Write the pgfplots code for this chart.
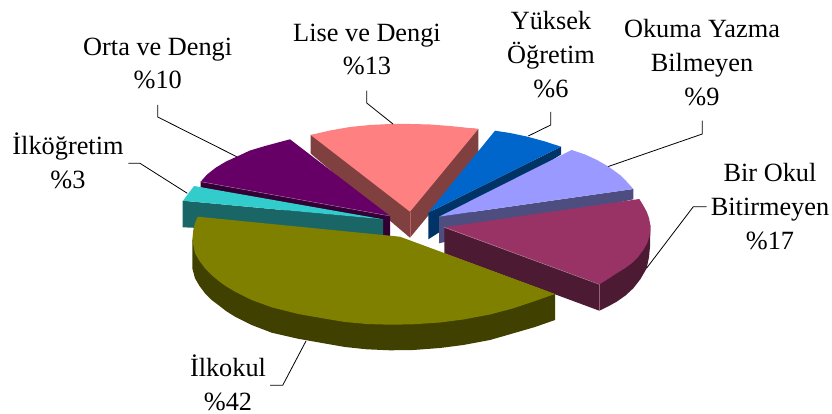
\documentclass[border=0pt]{standalone}
\usepackage{fontspec}
\setmainfont{Liberation Serif}
\usepackage{pgfplots}
\pgfplotsset{compat=1.18}
\definecolor{oliveT}{HTML}{808000}\definecolor{oliveS}{HTML}{404000}
\definecolor{purpT}{HTML}{660066}\definecolor{purpS}{HTML}{330033}
\definecolor{cyanT}{HTML}{33CCCC}\definecolor{cyanS}{HTML}{1A6666}
\definecolor{pinkT}{HTML}{FF8080}\definecolor{pinkS}{HTML}{804040}
\definecolor{blueT}{HTML}{0066CC}\definecolor{blueS}{HTML}{003366}
\definecolor{lavT}{HTML}{9999FF}\definecolor{lavS}{HTML}{4D4D80}
\definecolor{marT}{HTML}{993366}\definecolor{marS}{HTML}{4D1A33}
\newcommand{\lab}[3]{\node[anchor=base,inner sep=0pt,text=black] at (axis cs:#1,#2) {\fontsize{26.3}{30}\selectfont #3};}
\begin{document}
\begin{tikzpicture}
\path[use as bounding box] (0,0) rectangle (832pt,414pt);
\begin{axis}[
  at={(0,0)},anchor=south west,
  x=1pt,y=1pt,xmin=0,xmax=832,ymin=0,ymax=414,y dir=reverse,
  axis lines=none,clip=false,scale only axis,
]
% Lise ve Dengi
\addplot[fill=pinkS,draw=none] coordinates {(310.7,135)(310.7,153.5)(410,237.7)(478.3,155)(478.3,129)(410,124)} --cycle;
\addplot[fill=pinkT,draw=none] coordinates {(310.7,135)(330,130.5)(350,127)(370,125)(390,124)(410,124)(430,124.5)(450,126)(478.3,129)(410,211.7)} --cycle;
\addplot[draw=pinkT!50!pinkS,line width=0.7pt] coordinates {(410,212)(410,237)};
% Yuksek Ogretim
\addplot[fill=blueS,draw=none] coordinates {(428.3,212.7)(561,146.7)(561,154.5)(428.3,239.3)} --cycle;
\addplot[fill=blueT,draw=none] coordinates {(428.3,212.7)(495,130.7)(510,133)(526.7,136.5)(545,141.5)(561,146.7)} --cycle;
% Okuma Yazma Bilmeyen
\addplot[fill=lavS,draw=none] coordinates {(439,216.7)(633.3,189)(633.3,199.3)(439,243.3)} --cycle;
\addplot[fill=lavT,draw=none] coordinates {(439,216.7)(571.7,150)(585,154.5)(597,160)(608.3,166.5)(620,175)(627,182)(633.3,189)} --cycle;
% Bir Okul Bitirmeyen
\addplot[fill=marS,draw=none] coordinates {(444.3,227.3)(444.3,253.3)(599.3,310.7)(608,306.5)(616.7,301.7)(625.5,295.5)(633.3,288.3)(640.5,279)(646.7,268.3)(649,257)(650,246.7)(650.3,233)(650.3,225)} --cycle;
\addplot[fill=marT,draw=none] coordinates {(444.3,227.3)(639.3,199)(643,205)(646.7,211.7)(649,218)(650.3,225)(650.3,231)(649.3,236.7)(647,243.5)(643.3,250)(638,257)(631.7,263.3)(624.5,268.5)(616.7,273.3)(608,279)(600,284)} --cycle;
\addplot[draw=marT!60!white,line width=0.5pt] coordinates {(444.3,227.3)(599.3,284.3)(599.3,311)};
% Orta ve Dengi
\addplot[fill=purpS,draw=none] coordinates {(200.7,181.7)(390,216)(390,236)(380,236)(200.7,187.3)} --cycle;
\addplot[fill=purpT,draw=none] coordinates {(200.7,181.7)(207,174.5)(216,167.5)(226,161.5)(236.7,156.7)(250,150.5)(265,146)(290,139.3)(390,216)} --cycle;
\addplot[draw=purpT!60!white,line width=0.4pt] coordinates {(200.7,181.7)(390,216)};
% Ilkogretim
\addplot[fill=cyanS,draw=none] coordinates {(182.7,200.7)(383,219.3)(383,236)(182.7,227.3)} --cycle;
\addplot[fill=cyanT,draw=none] coordinates {(194,186)(183,200.7)(383,219.3)} --cycle;
% Ilkokul
\addplot[fill=oliveS,draw=none] coordinates {(192.3,240)(192.3,268.3)(195,278.3)(199.5,286)(205,293.3)(211,299.5)(218.3,305)(226,311)(235,316.7)(251.7,325)(271.7,332.7)(298.3,338.8)(325,343.5)(345,347)(366.7,349.3)(390,350.3)(413.3,350)(440,348)(463.3,345)(490,340)(513.3,333.3)(535,327)(555,320)(555,294)(400,280)} --cycle;
\addplot[fill=oliveT,draw=none] coordinates {(197.7,216.7)(195,223)(193.3,230)(192.3,240)(195,253.3)(199.5,261)(205,268.3)(211,274.5)(218.3,280.7)(226,286.3)(235,291.7)(251.7,300)(271.7,307.3)(298.3,314)(325,318.7)(345,322)(366.7,324)(390,324.7)(413.3,324.3)(440,322.5)(463.3,319.5)(490,314.5)(513.3,308.3)(535,301)(555,294)(400,236.7)} --cycle;
% leader lines
\addplot[draw=black,line width=0.8pt] coordinates {(157.7,105)(157.7,117)(236.7,156.7)};
\addplot[draw=black,line width=0.8pt] coordinates {(128.3,163.3)(140,163.3)(187.3,193.3)};
\addplot[draw=black,line width=0.8pt] coordinates {(366.7,90.7)(366.7,103)(393,124)};
\addplot[draw=black,line width=0.8pt] coordinates {(550.7,112)(550.7,125)(528.3,136)};
\addplot[draw=black,line width=0.8pt] coordinates {(702.3,120.7)(702.3,134)(608.3,166.5)};
\addplot[draw=black,line width=0.8pt] coordinates {(706.7,206.7)(693.3,206.7)(646.7,268)};
\addplot[draw=black,line width=0.8pt] coordinates {(270,385.3)(282.7,385.3)(306,341)};
% labels
\lab{157.7}{56}{Orta ve Dengi}\lab{157.7}{89}{\%10}
\lab{68}{155}{İlköğretim}\lab{68}{189}{\%3}
\lab{367}{41.7}{Lise ve Dengi}\lab{367}{75}{\%13}
\lab{551}{29.3}{Yüksek}\lab{551}{63.3}{Öğretim}\lab{551}{97.3}{\%6}
\lab{702}{37.7}{Okuma Yazma}\lab{702}{71.7}{Bilmeyen}\lab{702}{105.3}{\%9}
\lab{770}{181.7}{Bir Okul}\lab{770}{215}{Bitirmeyen}\lab{770}{249}{\%17}
\lab{228}{376.7}{İlkokul}\lab{228}{410}{\%42}
\end{axis}
\end{tikzpicture}
\end{document}
